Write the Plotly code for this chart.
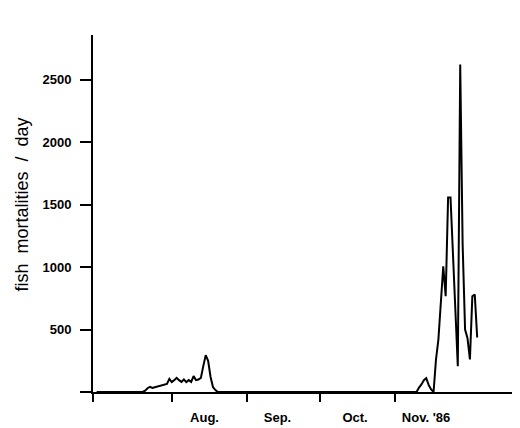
import plotly.graph_objects as go

# Days counted from 1 July 1986 (day 0 = Jul 1)
days = [0, 19, 20, 21, 22, 23, 24, 25, 26, 27, 28, 29, 30, 31, 32, 33, 34, 35,
        36, 37, 38, 39, 40, 41, 42, 43, 44, 45, 46, 47, 48, 49, 50,
        132, 133, 134, 135, 136, 137, 138, 139, 140, 141, 142, 143, 144, 145,
        146, 147, 148, 149, 150, 151, 152, 153, 154, 155, 156, 157]
mortalities = [0, 0, 10, 30, 41, 33, 38, 44, 48, 52, 58, 65, 105, 79, 95, 113, 95, 81,
               100, 79, 95, 81, 127, 95, 100, 113, 207, 295, 250, 120, 40, 15, 0,
               0, 36, 60, 94, 110, 55, 20, 0, 260, 420, 700, 1006, 766, 1556,
               1556, 1100, 650, 206, 2620, 1180, 500, 430, 260, 766, 780, 436]

month_start_days = [-1.5, 31, 62, 92, 123]
month_label_days = [44.5, 74.6, 106.6, 135.9]
month_labels = ["Aug.", "Sep.", "Oct.", "Nov. '86"]

y_tickvals = [0, 500, 1000, 1500, 2000, 2500]
y_ticktext = ["", "500", "1000", "1500", "2000", "2500"]
y_title = "fish  mortalities  /  day"

fig = go.Figure()
fig.add_trace(go.Scatter(x=days, y=mortalities, mode="lines",
                         line=dict(color="black", width=2), showlegend=False))

tick_font = dict(family="Liberation Sans, Arial, sans-serif", size=13, color="black", weight="bold")

fig.update_layout(
    width=512, height=420,
    margin=dict(l=85, r=5, t=27, b=36, autoexpand=False),
    paper_bgcolor="white", plot_bgcolor="white",
    xaxis=dict(
        range=[-1.5, 172.6], automargin=False,
        showgrid=False, zeroline=False,
        showline=True, linecolor="black", linewidth=2,
        tickmode="array", tickvals=month_label_days, ticktext=month_labels,
        ticks="", ticklabelstandoff=12,
        tickfont=tick_font,
        minor=dict(tickmode="array", tickvals=month_start_days, ticks="outside",
                   ticklen=8, tickwidth=2, tickcolor="black", showgrid=False),
    ),
    yaxis=dict(
        range=[0, 2856], automargin=False,
        showgrid=False, zeroline=False,
        showline=True, linecolor="black", linewidth=2,
        tickmode="array", tickvals=y_tickvals, ticktext=y_ticktext,
        ticks="outside", ticklen=11, tickwidth=2, tickcolor="black",
        ticklabelstandoff=6,
        tickfont=tick_font,
    ),
    annotations=[dict(text=y_title, textangle=-90, xref="paper", yref="paper",
                      x=-0.1694, y=0.524, xanchor="center", yanchor="middle",
                      showarrow=False,
                      font=dict(family="Liberation Sans, Arial, sans-serif", size=18, color="black"))],
)

fig.write_html("out.html")
